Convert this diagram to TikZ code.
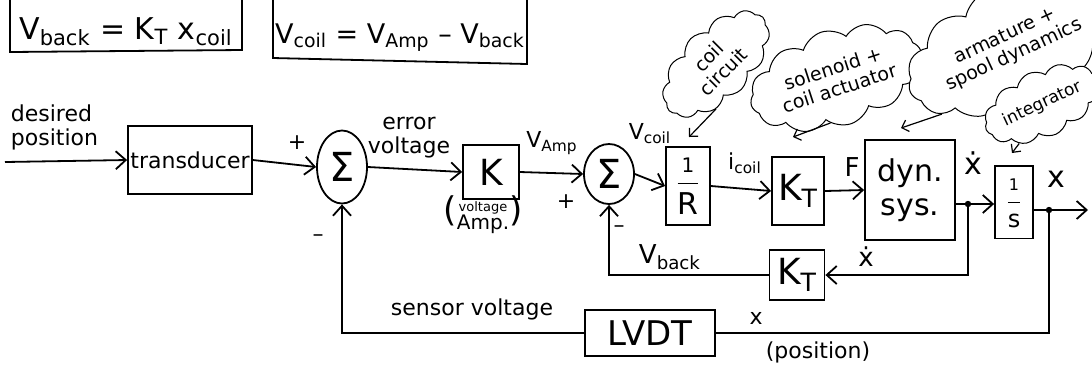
\documentclass[tikz,border=0pt]{standalone}
\usepackage{fontspec}
\setmainfont{DejaVu Sans}
\usetikzlibrary{arrows.meta,shapes.symbols,shapes.geometric,calc}
\begin{document}
\begin{tikzpicture}[x=0.5pt,y=-0.5pt,line width=0.9pt,
  >={Straight Barb[length=5pt,width=9pt,line width=0.9pt]},
  blk/.style={draw,inner sep=0pt,align=center,font=\fontsize{16}{18}\selectfont},
  sum/.style={draw,ellipse,inner sep=0pt,font=\fontsize{20}{20}\selectfont},
  lbl/.style={inner sep=1pt,align=center,font=\fontsize{11}{12}\selectfont},
  formula/.style={inner sep=0pt},
  thought/.style={draw,fill=white,cloud,cloud puffs=12,cloud puff arc=110,aspect=2.3,inner sep=1pt,align=center,font=\fontsize{9.5}{10.5}\selectfont,line width=0.5pt},
  note/.style={->,line width=0.6pt,>={Straight Barb[length=3pt,width=6pt,line width=0.6pt]}}
]
\useasboundingbox (0,0) rectangle (1092,366);
\clip (0,0) rectangle (1092,366);

% formula boxes (cut at the top)
\draw (10,-10) -- (10,52) -- (242,50) -- (242,-10);
\node[formula,anchor=base,font=\fontsize{15}{16}\selectfont] (f1) at (126,39) {V\textsubscript{back} = K\textsubscript{T} x\textsubscript{coil}};
\draw (273,-10) -- (273,58) -- (527,64) -- (527,-10);
\node[formula,anchor=base,font=\fontsize{13.5}{14}\selectfont] (f2) at (400,43) {V\textsubscript{coil} = V\textsubscript{Amp} – V\textsubscript{back}};

% forward path
\node[lbl,align=left,anchor=west] (desired) at (8,127) {desired\\position};
\coordinate (in) at (5,162);
\node[blk,minimum width=62pt,minimum height=34pt,font=\fontsize{11}{13}\selectfont] (trans) at (190,160) {transducer};
\draw[->] (in) -- (trans.west);
\node[sum,minimum width=25pt,minimum height=36.5pt] (s1) at (342,167) {Σ};
\draw[->] (trans.east) -- (s1.west);
\node[lbl] (plus1) at (297,143) {+};
\node[lbl] (minus1) at (318,238) {–};
\node[blk,minimum width=28pt,minimum height=27pt,font=\fontsize{18}{20}\selectfont] (K) at (491,172) {K};
\draw[->] (s1.east) -- (K.west);
\node[lbl] (err) at (409,138) {error\\voltage};
\node[lbl] (amp) at (483,216) {{\fontsize{17}{17}\selectfont(}\begin{tabular}{@{}c@{}}{\fontsize{6.5}{7}\selectfont voltage}\\[-3pt]{\fontsize{10}{11}\selectfont Amp.}\end{tabular}{\fontsize{17}{17}\selectfont)}};
\node[sum,minimum width=25pt,minimum height=30pt] (s2) at (609,174) {Σ};
\draw[->] (K.east) -- (s2.west);
\node[lbl] (vamp) at (552,143) {V\textsubscript{Amp}};
\node[lbl] (plus2) at (566,202) {+};
\node[lbl] (minus2) at (619,229) {–};
\node[blk,minimum width=22pt,minimum height=36pt] (R) at (688,186) {\begin{tabular}{@{}c@{}}{\fontsize{10}{11}\selectfont 1}\\\hline\rule{0pt}{15pt}{\fontsize{15}{15}\selectfont R}\end{tabular}};
\draw[->] (s2.east) -- (R.west);
\node[lbl] (vcoil) at (650,134) {V\textsubscript{coil}};
\node[blk,minimum width=26pt,minimum height=34pt,font=\fontsize{18}{20}\selectfont] (KT) at (798,191) {K\textsubscript{T}};
\draw[->] (R.east) -- (KT.west);
\node[lbl] (icoil) at (745,163) {i\textsubscript{coil}};
\node[blk,minimum width=45pt,minimum height=50pt,font=\fontsize{15}{17}\selectfont] (dyn) at (910,190) {dyn.\\sys.};
\draw[->] (KT.east) -- (dyn.west);
\node[lbl,font=\fontsize{13}{13}\selectfont] (F) at (852,167) {F};
\node[blk,minimum width=19pt,minimum height=31pt] (int) at (1014,202) {\begin{tabular}{@{}c@{}}{\fontsize{8}{9}\selectfont 1}\\\hline\rule{0pt}{11pt}{\fontsize{12}{12}\selectfont s}\end{tabular}};
\coordinate (b1) at (968,204);
\draw (dyn.east |- b1) -- (b1);
\draw[->] (b1) -- (int.west |- b1);
\fill (b1) circle (1.6pt);
\node[lbl,font=\fontsize{15}{15}\selectfont] (xd1) at (973,163) {ẋ};
\coordinate (b2) at (1049,210);
\coordinate (out) at (1088,210);
\draw (int.east |- b2) -- (b2);
\draw[->] (b2) -- (out);
\fill (b2) circle (1.6pt);
\node[lbl,font=\fontsize{15}{15}\selectfont] (x1) at (1056,179) {x};

% inner feedback
\node[blk,minimum width=27.5pt,minimum height=25pt,font=\fontsize{18}{20}\selectfont] (KT2) at (797,275) {K\textsubscript{T}};
\draw[->] (b1) |- (KT2.east);
\draw[->] (KT2.west) -| (s2.south);
\node[lbl,font=\fontsize{13}{13}\selectfont] (xd2) at (866,257) {ẋ};
\node[lbl,font=\fontsize{13}{13}\selectfont] (vback) at (670,257) {V\textsubscript{back}};

% outer feedback
\node[blk,minimum width=65pt,minimum height=23pt,font=\fontsize{17}{19}\selectfont] (lvdt) at (650,333) {LVDT};
\draw (b2) |- (lvdt.east);
\draw[->] (lvdt.west) -| (s1.south);
\node[lbl] (sv) at (472,309) {sensor voltage};
\node[lbl] (x2) at (756,318) {x};
\node[lbl] (pos) at (818,352) {(position)};

% thought clouds
\node[thought,rotate=45] (c1) at (716,64) {coil\\circuit};
\coordinate (c1t) at (689,137);
\draw[note] (c1.225) -- (c1t);
\node[thought,rotate=18] (c2) at (836,78) {solenoid +\\coil actuator};
\coordinate (c2t) at (793,137);
\draw[note] (c2.245) -- (c2t);
\node[thought,rotate=25] (c3) at (1010,46) {armature +\\spool dynamics};
\coordinate (c3t) at (901,128);
\draw[note] (c3.200) -- (c3t);
\node[thought,rotate=25,inner sep=0pt,font=\fontsize{8.5}{9.5}\selectfont] (c4) at (1042,104) {integrator};
\coordinate (c4t) at (1012,153);
\draw[note] (c4.215) -- (c4t);
\end{tikzpicture}
\end{document}
